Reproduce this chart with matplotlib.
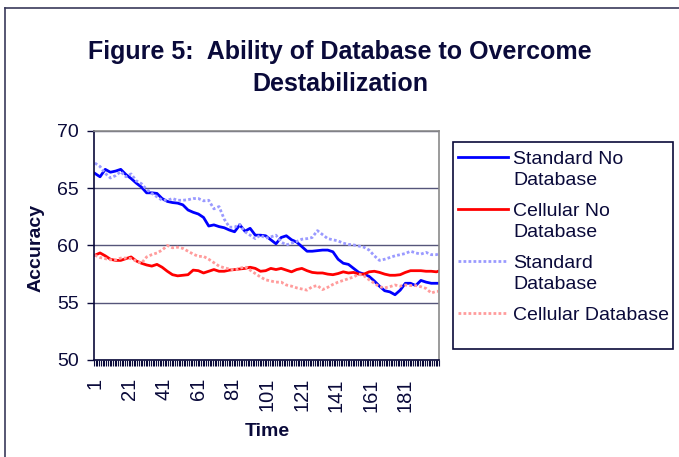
import matplotlib
matplotlib.use("Agg")
import matplotlib.pyplot as plt
from matplotlib.lines import Line2D
from matplotlib.patches import Rectangle
from matplotlib.ticker import FixedLocator, NullFormatter

plt.rcParams['font.family'] = ['Liberation Sans', 'DejaVu Sans']

# ---------------- data ----------------
times = list(range(1, 200, 3)) + [200]

standard_no_db = [66.3, 66.0, 66.65, 66.4, 66.5, 66.65, 66.2, 65.85, 65.45, 65.1,
                  64.6, 64.6, 64.55, 64.1, 63.85, 63.75, 63.7, 63.55, 63.1, 62.9,
                  62.75, 62.45, 61.7, 61.8, 61.65, 61.55, 61.35, 61.2, 61.8, 61.25,
                  61.5, 60.9, 60.9, 60.85, 60.5, 60.15, 60.7, 60.85, 60.5, 60.3,
                  59.9, 59.5, 59.5, 59.55, 59.6, 59.6, 59.45, 58.8, 58.45, 58.35,
                  58.0, 57.65, 57.5, 57.3, 56.9, 56.45, 56.05, 55.95, 55.7, 56.1,
                  56.7, 56.7, 56.5, 56.95, 56.8, 56.7, 56.7, 56.7]

cellular_no_db = [59.15, 59.35, 59.1, 58.8, 58.7, 58.7, 58.85, 59.0, 58.65, 58.45,
                  58.3, 58.2, 58.35, 58.1, 57.75, 57.45, 57.35, 57.4, 57.45, 57.85,
                  57.8, 57.6, 57.75, 57.9, 57.75, 57.75, 57.85, 57.9, 57.95, 58.0,
                  58.1, 58.0, 57.75, 57.8, 58.0, 57.9, 58.0, 57.85, 57.7, 57.9,
                  58.0, 57.8, 57.65, 57.6, 57.6, 57.5, 57.45, 57.55, 57.7, 57.6,
                  57.65, 57.5, 57.5, 57.7, 57.75, 57.65, 57.5, 57.4, 57.4, 57.45,
                  57.65, 57.8, 57.8, 57.8, 57.75, 57.75, 57.7, 57.75]

standard_db = [67.2, 66.9, 66.3, 65.9, 66.1, 66.45, 66.0, 66.25, 65.65, 65.4,
               64.9, 64.55, 64.25, 63.95, 63.95, 64.1, 63.95, 63.95, 64.0, 64.1,
               64.1, 63.9, 63.95, 63.2, 63.4, 62.3, 61.6, 61.6, 61.85, 61.2,
               60.9, 60.6, 60.9, 60.65, 60.75, 60.9, 60.3, 60.05, 60.2, 60.35,
               60.55, 60.6, 60.7, 61.3, 60.95, 60.6, 60.5, 60.4, 60.2, 60.1,
               60.05, 59.95, 59.85, 59.6, 59.1, 58.7, 58.8, 58.95, 59.1, 59.2,
               59.3, 59.5, 59.35, 59.25, 59.4, 59.2, 59.2, 59.25]

cellular_db = [59.15, 58.95, 58.85, 58.75, 58.75, 58.9, 58.9, 58.85, 58.65, 58.45,
               59.0, 59.2, 59.35, 59.6, 60.0, 59.8, 59.85, 59.75, 59.5, 59.25,
               59.05, 59.05, 58.8, 58.5, 58.2, 58.05, 57.95, 57.85, 58.0, 58.15,
               57.85, 57.55, 57.25, 57.0, 56.9, 56.8, 56.8, 56.55, 56.45, 56.3,
               56.2, 56.1, 56.4, 56.5, 56.15, 56.35, 56.6, 56.8, 56.95, 57.1,
               57.25, 57.5, 57.35, 57.0, 56.7, 56.4, 56.3, 56.4, 56.55, 56.45,
               56.55, 56.5, 56.5, 56.4, 56.25, 55.85, 56.0, 56.0]

series_labels = ["Standard No\nDatabase", "Cellular No\nDatabase",
                 "Standard\nDatabase", "Cellular Database"]
n_categories = 200
x_tick_labels = list(range(1, 200, 20))
y_ticks = [50, 55, 60, 65, 70]

# ---------------- figure ----------------
W, H = 679, 457
fig = plt.figure(figsize=(W / 100, H / 100), dpi=100)
navy = '#0a0a3a'

def fx(px):
    return px / W

def fy(py):
    return 1 - py / H

ax = fig.add_axes([fx(94), fy(360), fx(439) - fx(94), fy(131) - fy(360)])

styles = [
    dict(color='#0000ff', lw=2.0, ls='-'),
    dict(color='#ff0000', lw=2.0, ls='-'),
    dict(color='#9a9aff', lw=2.0, ls=(0, (1, 0.8))),
    dict(color='#ff9c9c', lw=2.0, ls=(0, (1, 0.8))),
]
all_series = [standard_no_db, cellular_no_db, standard_db, cellular_db]
for vals, st in zip(all_series, styles):
    ax.plot(times, vals, solid_joinstyle='round', **st)

ax.set_xlim(0.5, n_categories + 0.5)
ax.set_ylim(50, 70)
ax.set_yticks(y_ticks)
ax.yaxis.grid(True, color='#55557a', lw=1.0)
ax.set_axisbelow(True)

ax.set_xticks(x_tick_labels)
ax.set_xticklabels([str(v) for v in x_tick_labels], rotation=90, fontsize=14.5,
                   color=navy, va='top')
ax.xaxis.set_minor_locator(FixedLocator([k + 0.5 for k in range(0, n_categories + 1)]))
ax.xaxis.set_minor_formatter(NullFormatter())
ax.tick_params(axis='x', which='major', length=0, pad=13)
ax.tick_params(axis='x', which='minor', length=4.5, width=0.8, color=navy, direction='out')
ax.tick_params(axis='y', which='major', length=5, width=1, color=navy, labelsize=14,
               labelcolor=navy, pad=6)

for side in ['left', 'bottom']:
    ax.spines[side].set_color(navy)
    ax.spines[side].set_linewidth(1.2)
for side in ['top', 'right']:
    ax.spines[side].set_color('#8a8a8a')
    ax.spines[side].set_linewidth(1.2)

fig.text(fx(267), fy(431), "Time", fontsize=14, fontweight='bold', color=navy,
         ha='center', va='center')
fig.text(fx(36), fy(248), "Accuracy", fontsize=14, fontweight='bold', color=navy,
         ha='center', va='center', rotation=90)

# title
fig.text(fx(340), fy(68), "Figure 5:  Ability of Database to Overcome\nDestabilization",
         fontsize=18, fontweight='bold', color=navy, ha='center', va='center',
         linespacing=1.42)

# outer chart border
fig.add_artist(Line2D([fx(5), fx(5)], [fy(8), 0], color='#3a3a5a', lw=1.2))
fig.add_artist(Line2D([fx(5), 1], [fy(8), fy(8)], color='#3a3a5a', lw=1.2))

# legend (drawn manually to match layout)
fig.add_artist(Rectangle((fx(452.5), fy(349)), fx(673) - fx(452.5), fy(142) - fy(349),
                         transform=fig.transFigure, fill=False, edgecolor=navy, lw=1.2))
handle_y = [157, 209, 261, 313]
for lab, st, hy in zip(series_labels, styles, handle_y):
    fig.add_artist(Line2D([fx(458), fx(508)], [fy(hy), fy(hy)], **st))
    fig.text(fx(513), fy(hy - 6), lab, fontsize=14, color=navy, ha='left', va='top',
             linespacing=1.32)

fig.savefig("out.png", dpi=100)
